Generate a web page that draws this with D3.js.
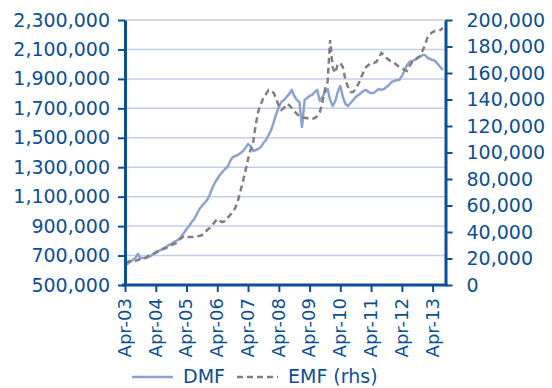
<!DOCTYPE html>
<html><head><meta charset="utf-8">
<script src="https://cdn.jsdelivr.net/npm/d3@7"></script>
<style>body{margin:0;background:#fff}svg{display:block}</style>
</head><body>
<svg id="c" width="552" height="388"></svg>
<script>
// Monthly data, Apr-03 .. Aug-13
const startYear = 2003, startMonthIndex = 3; // April
const dmf = [629000,643000,656000,670000,683000,711000,683000,683000,683000,690000,
  697000,711000,724000,731000,738000,751000,758000,772000,778000,792000,
  799000,812000,833000,853000,880000,901000,928000,948000,982000,1016000,
  1037000,1057000,1077000,1111000,1159000,1193000,1220000,1247000,1268000,1288000,
  1302000,1342000,1369000,1376000,1383000,1397000,1410000,1431000,1458000,1444000,
  1410000,1417000,1424000,1437000,1465000,1485000,1519000,1553000,1607000,1662000,
  1709000,1743000,1757000,1777000,1797000,1825000,1784000,1757000,1743000,1573000,
  1757000,1770000,1784000,1791000,1811000,1825000,1750000,1777000,1811000,1831000,
  1757000,1716000,1750000,1811000,1852000,1777000,1729000,1716000,1736000,1757000,
  1777000,1791000,1804000,1818000,1825000,1811000,1804000,1804000,1818000,1831000,
  1825000,1831000,1845000,1859000,1879000,1886000,1892000,1892000,1920000,1954000,
  1994000,2015000,2022000,2028000,2042000,2049000,2062000,2062000,2042000,2035000,
  2028000,2022000,2001000,1981000,1960000];
const emf = [17400,17400,18100,18100,18100,18900,19600,20400,20400,21900,
  22600,23400,24200,25700,26400,27200,27900,29400,30200,30900,
  31700,34000,35500,37000,36200,36200,36200,36200,37000,37000,
  37700,39200,41500,43000,45300,47500,49800,48300,47500,48300,
  50600,52800,55100,58100,63400,70900,78500,86000,95100,101900,
  107900,120800,131300,136600,141100,144100,147200,146400,144900,140400,
  135100,132100,133600,136600,135800,133600,131300,129100,127500,126800,
  126000,126000,125300,125300,126000,127500,130600,138100,147900,153200,
  184900,163800,160000,166800,167500,164500,154700,149400,145700,145700,
  147900,151700,156200,160800,164500,166000,167500,167500,168300,171300,
  175100,173600,171300,169800,168300,167500,166000,164500,163800,162300,
  161500,165300,168300,169800,171300,172800,176600,181100,187200,189400,
  190900,191700,191700,192400,194000];
const leftTicks = [500000,700000,900000,1100000,1300000,1500000,1700000,1900000,2100000,2300000];
const rightTicks = [0,20000,40000,60000,80000,100000,120000,140000,160000,180000,200000];
const xTickLabels = ["Apr-03","Apr-04","Apr-05","Apr-06","Apr-07","Apr-08","Apr-09","Apr-10","Apr-11","Apr-12","Apr-13"];
const seriesNames = ["DMF","EMF (rhs)"];

const AX = "#0d4f97", GRID = "#c4cee9", DMF_C = "#8da2d3", EMF_C = "#7f7f7f";
const FONT = "DejaVu Sans", FS = 19;

const dates = dmf.map((_, i) => new Date(startYear, startMonthIndex + i, 1));
const tickDates = xTickLabels.map((_, i) => new Date(startYear + i, 3, 1));

const svg = d3.select("#c");
const L = 125, R = 445.5, T = 20, B = 285;
const x = d3.scaleTime().domain([new Date(2003,3,1), new Date(2013,8,1)]).range([L, R]);
const yL = d3.scaleLinear().domain([500000, 2300000]).range([B, T]);
const yR = d3.scaleLinear().domain([0, 200000]).range([B, T]);

// gridlines
svg.append("g").selectAll("line").data(leftTicks.slice(1)).join("line")
  .attr("x1", L).attr("x2", R).attr("y1", d => yL(d)).attr("y2", d => yL(d))
  .attr("stroke", GRID).attr("stroke-width", 1.5);

// lines
const lineL = d3.line().x((d, i) => x(dates[i])).y(d => yL(d));
const lineR = d3.line().x((d, i) => x(dates[i])).y(d => yR(d));
svg.append("path").datum(dmf).attr("d", lineL).attr("fill", "none")
  .attr("stroke", DMF_C).attr("stroke-width", 2.5).attr("stroke-linejoin", "round");
svg.append("path").datum(emf).attr("d", lineR).attr("fill", "none")
  .attr("stroke", EMF_C).attr("stroke-width", 2.5).attr("stroke-dasharray", "6,4");

function styleAxis(g) {
  g.select(".domain").attr("stroke", AX).attr("stroke-width", 3);
  g.selectAll(".tick line").attr("stroke", AX).attr("stroke-width", 2);
  g.selectAll("text").attr("fill", AX).attr("font-family", FONT).attr("font-size", FS);
}

// left axis
svg.append("g").attr("transform", `translate(${L},0)`)
  .call(d3.axisLeft(yL).tickValues(leftTicks).tickFormat(d3.format(",")).tickSize(7).tickSizeOuter(0).tickPadding(8))
  .call(styleAxis);
// right axis
svg.append("g").attr("transform", `translate(${R},0)`)
  .call(d3.axisRight(yR).tickValues(rightTicks).tickFormat(d3.format(",")).tickSize(7).tickSizeOuter(0).tickPadding(14))
  .call(styleAxis);
// bottom axis
const gx = svg.append("g").attr("transform", `translate(0,${B})`)
  .call(d3.axisBottom(x).tickValues(tickDates).tickFormat((d, i) => xTickLabels[i]).tickSize(7).tickSizeOuter(0))
  .call(styleAxis);
gx.select(".domain").attr("d", `M${L - 3},0H${R + 2}`);
gx.selectAll(".tick text").attr("transform", "rotate(-90)").attr("font-size", 18)
  .attr("text-anchor", "end").attr("x", -13).attr("y", 0).attr("dy", "0.3em");

// legend
const leg = svg.append("g");
leg.append("line").attr("x1", 132).attr("x2", 173).attr("y1", 377).attr("y2", 377)
  .attr("stroke", DMF_C).attr("stroke-width", 2.5);
leg.append("text").attr("x", 183).attr("y", 383).text(seriesNames[0]);
leg.append("line").attr("x1", 237).attr("x2", 278).attr("y1", 377).attr("y2", 377)
  .attr("stroke", EMF_C).attr("stroke-width", 2.5).attr("stroke-dasharray", "6,4");
leg.append("text").attr("x", 288).attr("y", 383).text(seriesNames[1]);
leg.selectAll("text").attr("fill", AX).attr("font-family", FONT).attr("font-size", FS);
</script>
</body></html>
